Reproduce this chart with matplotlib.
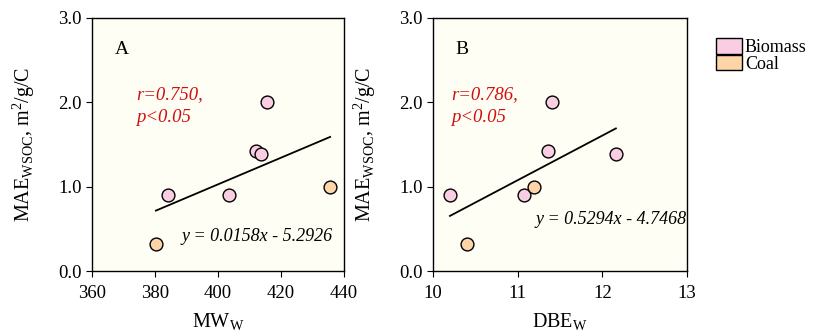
import matplotlib
matplotlib.use("Agg")
import matplotlib.pyplot as plt
from matplotlib.patches import Patch

plt.rcParams['font.family'] = ['Liberation Serif', 'DejaVu Serif']
plt.rcParams['mathtext.fontset'] = 'custom'
plt.rcParams['mathtext.rm'] = 'Liberation Serif'

# panel A: MW_w
mw_bio = [384.0, 403.5, 412.1, 413.5, 415.7]
mae_bio_a = [0.90, 0.90, 1.42, 1.39, 2.00]
mw_coal = [380.3, 435.6]
mae_coal_a = [0.32, 1.00]

# panel B: DBE_w
dbe_bio = [10.20, 11.08, 11.36, 11.40, 12.16]
mae_bio_b = [0.90, 0.90, 1.42, 2.00, 1.39]
dbe_coal = [10.40, 11.19]
mae_coal_b = [0.32, 1.00]

fit_a = (0.0158, -5.2926)
fit_b = (0.5294, -4.7468)

bio_col = '#F9CEE2'
coal_col = '#FDD5A8'
bg = '#FFFEF4'
red = '#D01010'

fig = plt.figure(figsize=(8.13, 3.34), dpi=100)
axA = fig.add_axes([92/813, 1-271/334, 252/813, 253/334])
axB = fig.add_axes([433/813, 1-271/334, 254/813, 253/334])

def panel(ax, xb, yb, xc, yc, fit, xlim, xticks, xlabel, letter, rtxt, rpos, eqpos):
    ax.set_facecolor(bg)
    ax.scatter(xb, yb, s=85, c=bio_col, edgecolors='black', linewidths=1.0, zorder=3)
    ax.scatter(xc, yc, s=85, c=coal_col, edgecolors='black', linewidths=1.0, zorder=3)
    allx = xb + xc
    x0, x1 = min(allx), max(allx)
    a, b = fit
    ax.plot([x0, x1], [a*x0 + b, a*x1 + b], color='black', lw=1.3, zorder=2)
    ax.set_xlim(*xlim)
    ax.set_ylim(0, 3)
    ax.set_xticks(xticks)
    ax.set_yticks([0, 1, 2, 3])
    ax.set_yticklabels(['0.0', '1.0', '2.0', '3.0'])
    ax.tick_params(direction='out', labelsize=13.5, length=4)
    ax.tick_params(axis='x', pad=6)
    ax.set_xlabel(xlabel, fontsize=14.5, labelpad=7)
    ax.set_ylabel(r'MAE$_{\mathregular{WSOC}}$, m$^{\mathregular{2}}$/g/C', fontsize=14.5, labelpad=15)
    for s in ax.spines.values():
        s.set_linewidth(1.0)
    ax.text(0.09, 0.875, letter, transform=ax.transAxes, fontsize=14, va='center')
    ax.text(rpos[0], rpos[1], rtxt, transform=ax.transAxes, fontsize=13.5,
            style='italic', color=red, va='top', linespacing=1.45)
    ax.text(eqpos[0], eqpos[1], 'y = %.4fx - %.4f' % (a, -b), transform=ax.transAxes,
            fontsize=13, style='italic', ha='right', va='center')

panel(axA, mw_bio, mae_bio_a, mw_coal, mae_coal_a, fit_a, (360, 440),
      [360, 380, 400, 420, 440], r'MW$_{\mathregular{W}}$', 'A',
      'r=0.750,\np<0.05', (0.175, 0.73), (0.955, 0.135))
panel(axB, dbe_bio, mae_bio_b, dbe_coal, mae_coal_b, fit_b, (10, 13),
      [10, 11, 12, 13], r'DBE$_{\mathregular{W}}$', 'B',
      'r=0.786,\np<0.05', (0.07, 0.73), (1.0, 0.205))

handles = [Patch(facecolor=bio_col, edgecolor='black', label='Biomass'),
           Patch(facecolor=coal_col, edgecolor='black', label='Coal')]
fig.legend(handles=handles, loc='upper left', bbox_to_anchor=(716/813, 0.885),
           frameon=False, fontsize=13, handlelength=1.45, handleheight=0.95,
           handletextpad=0.15, labelspacing=-0.1, borderaxespad=0, borderpad=0)

fig.savefig('out.png', dpi=100)
